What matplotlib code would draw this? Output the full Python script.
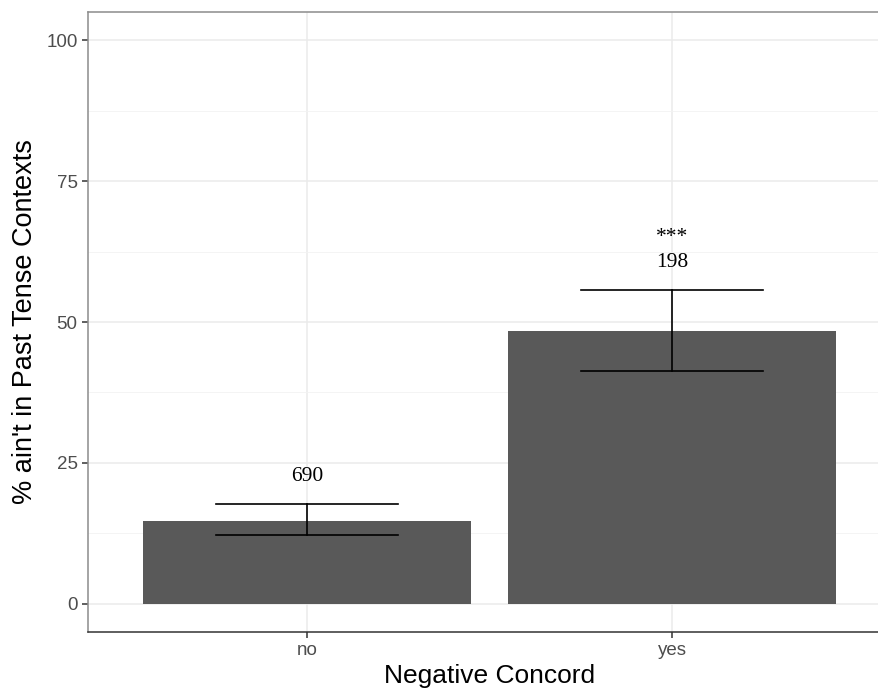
import matplotlib
matplotlib.use("Agg")
import matplotlib.pyplot as plt
import numpy as np

categories = ["no", "yes"]
pct = [14.77, 48.45]
ci_low = [12.18, 41.37]
ci_high = [17.73, 55.67]
counts = ["690", "198"]
signif = ["", "***"]

fig = plt.figure(figsize=(8.79, 6.91), dpi=100)
# panel runs a little past the right edge of the figure
ax = fig.add_axes([88 / 879, 1 - 632 / 691, 803 / 879, 620 / 691])

x = np.arange(1, len(categories) + 1)
ax.bar(x, pct, width=0.9, color="#595959", zorder=2)

for xi, lo, hi in zip(x, ci_low, ci_high):
    ax.plot([xi, xi], [lo, hi], color="black", lw=1.2, zorder=3)
    ax.plot([xi - 0.25, xi + 0.25], [lo, lo], color="black", lw=1.2, zorder=3)
    ax.plot([xi - 0.25, xi + 0.25], [hi, hi], color="black", lw=1.2, zorder=3)

for xi, hi, n, s in zip(x, ci_high, counts, signif):
    ax.text(xi, hi + 4.9, n, ha="center", va="center", fontsize=15.5,
            family="Liberation Serif", color="black", zorder=4)
    if s:
        ax.text(xi, hi + 9.3, s, ha="center", va="center", fontsize=15.5,
                family="Liberation Serif", color="black", zorder=4)

ax.set_xlim(0.4, 2.6)
ax.set_ylim(-5, 105)
ax.set_xticks(x)
ax.set_xticklabels(categories)
ax.set_yticks([0, 25, 50, 75, 100])
ax.set_yticks([12.5, 37.5, 62.5, 87.5], minor=True)

ax.grid(which="major", color="#EBEBEB", lw=1.1, zorder=0)
ax.grid(which="minor", axis="y", color="#F2F2F2", lw=0.6, zorder=0)
ax.set_axisbelow(True)

for sp in ax.spines.values():
    sp.set_color("#8C8C8C")
    sp.set_linewidth(1.1)
ax.spines["bottom"].set_color("#333333")

ax.tick_params(which="major", length=4, width=1.1, color="#333333",
               labelcolor="#4D4D4D", labelsize=13.5)
ax.tick_params(which="minor", length=0)
for lab in ax.get_xticklabels() + ax.get_yticklabels():
    lab.set_family("Liberation Sans")

ax.set_xlabel("Negative Concord", fontsize=19, family="Liberation Sans", labelpad=3)
ax.set_ylabel("% ain't in Past Tense Contexts", fontsize=19.5,
              family="Liberation Sans", labelpad=6)

fig.savefig("out.png", dpi=100)
